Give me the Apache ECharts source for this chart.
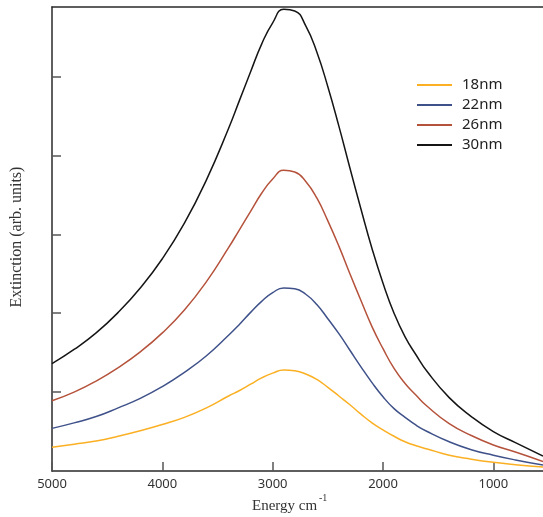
<!DOCTYPE html>
<html>
<head>
<meta charset="utf-8">
<script src="https://cdn.jsdelivr.net/npm/echarts@6/dist/echarts.min.js"></script>
<style>
html,body{margin:0;padding:0;background:#fff;}
#chart{width:543px;height:517px;}
</style>
</head>
<body>
<div id="chart"></div>
<script>
// Energy (cm^-1)
var energies = [5000,4800,4600,4400,4200,4000,3800,3600,3400,3300,3200,3100,3000,2900,2800,2700,2600,2500,2400,2300,2200,2100,2000,1900,1800,1700,1600,1400,1200,1000,800,550];
var seriesNames = ['18nm','22nm','26nm','30nm'];
var ext18 = [0.30,0.34,0.38,0.44,0.51,0.59,0.68,0.80,0.95,1.02,1.10,1.18,1.24,1.28,1.27,1.23,1.16,1.06,0.95,0.84,0.72,0.61,0.52,0.44,0.37,0.32,0.28,0.20,0.15,0.11,0.08,0.05];
var ext22 = [0.54,0.61,0.69,0.80,0.92,1.07,1.25,1.46,1.72,1.86,2.01,2.15,2.26,2.32,2.31,2.24,2.11,1.93,1.74,1.53,1.32,1.12,0.94,0.79,0.68,0.58,0.50,0.37,0.27,0.20,0.14,0.075];
var ext26 = [0.89,1.00,1.14,1.31,1.51,1.75,2.04,2.40,2.83,3.06,3.29,3.52,3.70,3.81,3.79,3.67,3.46,3.17,2.85,2.50,2.16,1.83,1.55,1.30,1.11,0.96,0.82,0.60,0.45,0.33,0.24,0.12];
var ext30 = [1.36,1.54,1.75,2.01,2.32,2.69,3.14,3.69,4.34,4.70,5.06,5.41,5.68,5.85,5.83,5.64,5.31,4.87,4.37,3.84,3.32,2.82,2.38,2.00,1.70,1.47,1.26,0.93,0.69,0.50,0.36,0.19];
var xTickValues = [1000,2000,3000,4000,5000];
var yTickValues = [1,2,3,4,5];
var colors = ['#FBB024','#3F5189','#B5523B','#151515'];

function pairs(vals){ return energies.map(function(e,i){ return [e, vals[i]]; }); }
var allVals = [ext18, ext22, ext26, ext30];

var chart = echarts.init(document.getElementById('chart'), null, {renderer:'canvas'});
var option = {
  animation: false,
  backgroundColor: '#ffffff',
  grid: {left: 52, right: 0, top: 7, bottom: 46, containLabel: false, outerBoundsMode: 'none'},
  legend: {
    data: seriesNames,
    orient: 'vertical',
    left: 417, top: 77,
    padding: 0,
    itemGap: 4,
    itemWidth: 35, itemHeight: 2,
    icon: 'rect',
    textStyle: {fontFamily: 'Noto Sans', fontSize: 15, color: '#222', lineHeight: 16, padding: [0,0,0,5]}
  },
  xAxis: [{
    type: 'value', inverse: true, min: 550, max: 5000,
    axisLine: {show: true, onZero: false, lineStyle: {color: '#2a2a2a', width: 1.5}},
    axisTick: {show: true, inside: true, length: 9, customValues: xTickValues, lineStyle: {color: '#555', width: 1.5}},
    axisLabel: {show: true, customValues: xTickValues, margin: 7, fontFamily: 'Noto Sans', fontSize: 13, color: '#333',
      formatter: function(v){ return String(v); }},
    splitLine: {show: false}
  }, {
    type: 'value', inverse: true, min: 550, max: 5000, position: 'top',
    axisLine: {show: true, onZero: false, lineStyle: {color: '#2a2a2a', width: 1.5}},
    axisTick: {show: false}, axisLabel: {show: false}, splitLine: {show: false}
  }],
  yAxis: {
    type: 'value', min: 0, max: 5.88,
    axisLine: {show: true, onZero: false, lineStyle: {color: '#2a2a2a', width: 1.5}},
    axisTick: {show: true, inside: true, length: 9, customValues: yTickValues, lineStyle: {color: '#555', width: 1.5}},
    axisLabel: {show: false},
    splitLine: {show: false}
  },
  graphic: [
    {type: 'text', x: 17, y: 237, rotation: Math.PI/2,
     style: {text: 'Extinction (arb. units)', font: '16px "Liberation Serif"', fill: '#333', textAlign: 'center', textVerticalAlign: 'middle'}},
    {type: 'text', x: 252, y: 506,
     style: {text: 'Energy cm', font: '15px "Liberation Serif"', fill: '#333', textAlign: 'left', textVerticalAlign: 'middle'}},
    {type: 'text', x: 319, y: 498,
     style: {text: '-1', font: '10px "Liberation Serif"', fill: '#333', textAlign: 'left', textVerticalAlign: 'middle'}}
  ],
  series: seriesNames.map(function(n, i){
    return {
      name: n, type: 'line', data: pairs(allVals[i]), smooth: 0.5,
      showSymbol: false, symbol: 'none',
      lineStyle: {color: colors[i], width: 1.5},
      itemStyle: {color: colors[i]},
      z: 2 + i
    };
  })
};
chart.setOption(option);
</script>
</body>
</html>
